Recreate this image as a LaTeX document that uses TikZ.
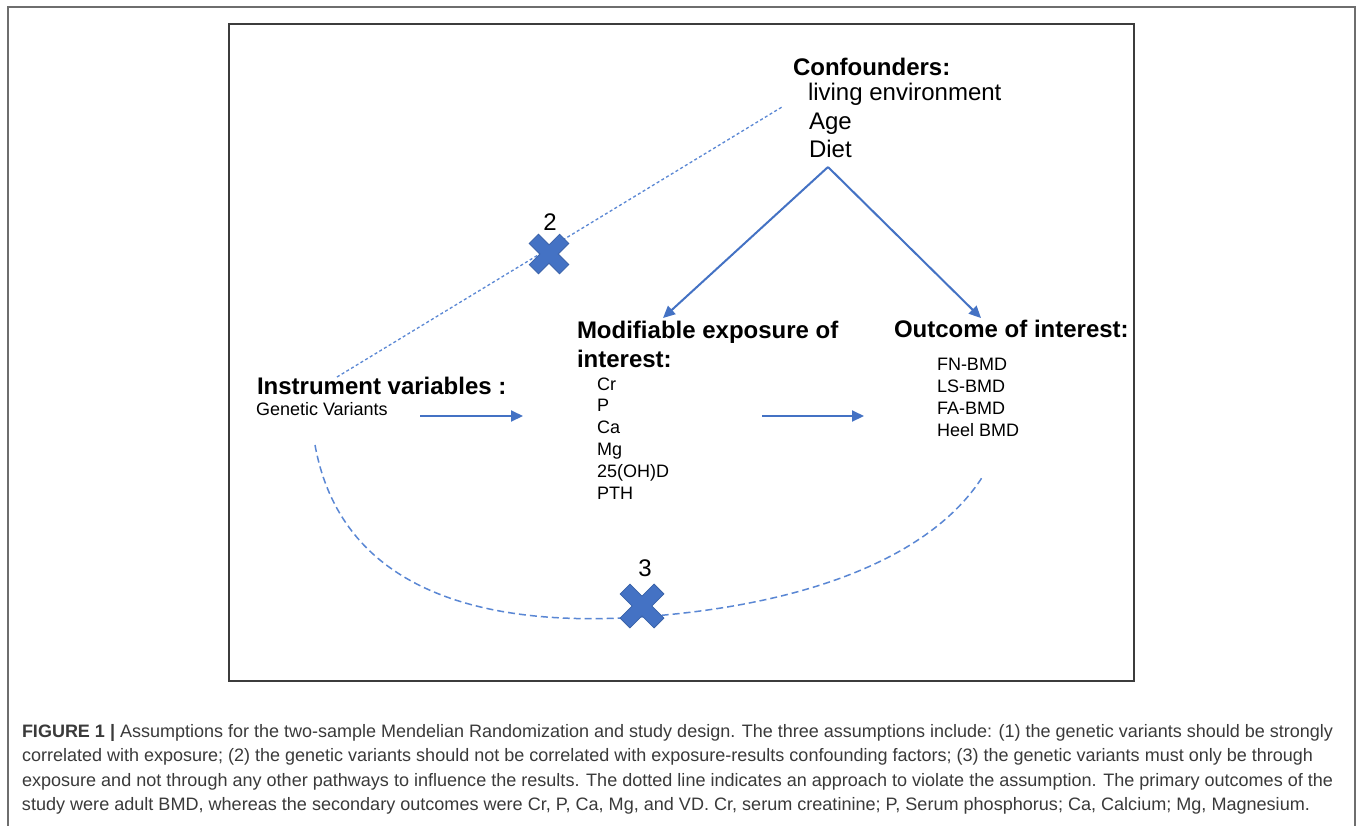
\documentclass[tikz,border=0pt]{standalone}
\usepackage{fontspec}
\usepackage{graphicx}
\setmainfont{Liberation Sans}
\usetikzlibrary{arrows.meta}
\definecolor{arrblue}{HTML}{4472C4}
\definecolor{dotblue}{HTML}{5A87D4}
\definecolor{xedge}{HTML}{3A62A8}
\definecolor{framegray}{HTML}{6E6E6E}
\definecolor{boxgray}{HTML}{3C3C3C}
\definecolor{captext}{HTML}{3A3A3A}
\newcommand\xshape[3]{% center, arm half width a, half length L
  \filldraw[fill=arrblue,draw=xedge,line width=0.8pt,shift={#1},rotate=45]
    (#2,#3) -- (#2,#2) -- (#3,#2) -- (#3,-#2) -- (#2,-#2) -- (#2,-#3) --
    (-#2,-#3) -- (-#2,-#2) -- (-#3,-#2) -- (-#3,#2) -- (-#2,#2) -- (-#2,#3) -- cycle;}
\newcommand\capline[2]{\resizebox{#1}{\height}{#2}}
\begin{document}
\begin{tikzpicture}[x=1pt,y=-1pt,
  txt/.style={anchor=base west,inner sep=0pt,outer sep=0pt},
  head/.style={txt,font=\fontsize{24}{28}\selectfont\bfseries},
  item/.style={txt,font=\fontsize{18}{22}\selectfont},
  conf/.style={txt,font=\fontsize{24}{28}\selectfont},
  digit/.style={anchor=center,inner sep=0pt,font=\fontsize{24}{28}\selectfont},
  captxt/.style={txt,text=captext,font=\fontsize{18}{22}\selectfont},
  arr/.style={draw=arrblue,line width=2pt,-{Triangle[length=12pt,width=11pt]}},
  dotline/.style={draw=dotblue,line width=1.3pt,dash pattern=on 3pt off 2.5pt},
  dashline/.style={draw=dotblue,line width=1.5pt,dash pattern=on 7pt off 4pt}]
\useasboundingbox (0,0) rectangle (1357,825);
\fill[white] (0,0) rectangle (1357,825);
% outer frame (open at bottom)
\draw[framegray,line width=1.6pt] (8,826) -- (8,7) -- (1355,7) -- (1355,826);
% inner box
\draw[boxgray,line width=2pt] (229,24) rectangle (1134,681);

% Confounders
\node[head] (confh) at (793,75) {Confounders:};
\node[conf] (conf1) at (808,100) {living environment};
\node[conf] (conf2) at (809,129) {Age};
\node[conf] (conf3) at (809,157) {Diet};

% Instrument
\node[head] (insth) at (257,394) {Instrument variables :};
\node[item] (inst1) at (256,415) {Genetic Variants};

% Exposure
\node[head] (exph1) at (577,338) {Modifiable exposure of};
\node[head] (exph2) at (577,367) {interest:};
\node[item] (e1) at (597,390) {Cr};
\node[item] (e2) at (597,411.8) {P};
\node[item] (e3) at (597,433.6) {Ca};
\node[item] (e4) at (597,455.4) {Mg};
\node[item] (e5) at (597,477.2) {25(OH)D};
\node[item] (e6) at (597,499) {PTH};

% Outcome
\node[head] (outh) at (894,337) {Outcome of interest:};
\node[item] (o1) at (937,370) {FN-BMD};
\node[item] (o2) at (937,392) {LS-BMD};
\node[item] (o3) at (937,414) {FA-BMD};
\node[item] (o4) at (937,436) {Heel BMD};

% connector coordinates
\coordinate (apex) at (828,167);
\coordinate (expin) at (663,318);
\coordinate (outin) at (981,318);
\coordinate (instout) at (420,416);
\coordinate (expin2) at (523,416);
\coordinate (expout) at (762,416);
\coordinate (outin2) at (864,416);
\coordinate (dotA) at (337,377);
\coordinate (dotB) at (782,107);
\coordinate (curA) at (315,445);
\coordinate (curM) at (640,617);
\coordinate (curB) at (983,476);

\draw[arr] (apex) -- (expin);
\draw[arr] (apex) -- (outin);
\draw[arr] (instout) -- (expin2);
\draw[arr] (expout) -- (outin2);

\draw[dotline] (dotA) -- (dotB);
\draw[dashline] (curA) .. controls (345,610) and (520,625) .. (curM)
                       .. controls (800,606) and (930,560) .. (curB);

% crosses
\xshape{(549,254)}{6.5}{21.5}
\node[digit] (two) at (550,222) {2};
\xshape{(642,606)}{7}{24}
\node[digit] (three) at (645,568) {3};

% caption
\node[captxt] (cap1) at (22,737) {\capline{1311pt}{\textbf{FIGURE 1 |} Assumptions for the two-sample Mendelian Randomization and study design. The three assumptions include: (1) the genetic variants should be strongly}};
\node[captxt] (cap2) at (22,761.5) {\capline{1291pt}{correlated with exposure; (2) the genetic variants should not be correlated with exposure-results confounding factors; (3) the genetic variants must only be through}};
\node[captxt] (cap3) at (22,786) {\capline{1311pt}{exposure and not through any other pathways to influence the results. The dotted line indicates an approach to violate the assumption. The primary outcomes of the}};
\node[captxt] (cap4) at (22,810) {\capline{1288pt}{study were adult BMD, whereas the secondary outcomes were Cr, P, Ca, Mg, and VD. Cr, serum creatinine; P, Serum phosphorus; Ca, Calcium; Mg, Magnesium.}};
\end{tikzpicture}
\end{document}
